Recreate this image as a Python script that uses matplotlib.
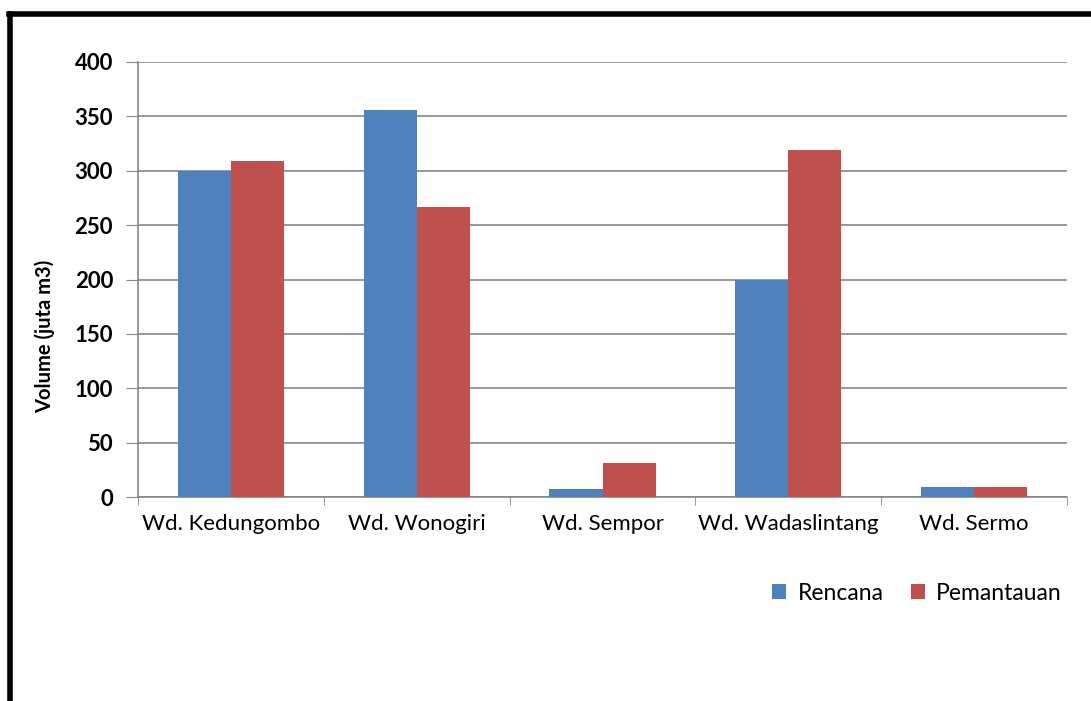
import numpy as np
import matplotlib.pyplot as plt
from matplotlib.lines import Line2D

categories = ['Wd. Kedungombo', 'Wd. Wonogiri', 'Wd. Sempor', 'Wd. Wadaslintang', 'Wd. Sermo']
rencana = [300, 356, 7, 200, 9]
pemantauan = [309, 267, 31, 319, 9]
yticks = [0, 50, 100, 150, 200, 250, 300, 350, 400]

plt.rcParams['font.family'] = ['Lato', 'DejaVu Sans']

W, H = 1091, 701
fig = plt.figure(figsize=(W / 100, H / 100), dpi=100)
ax = fig.add_axes([138 / W, 1 - 497 / H, (1067 - 138) / W, (497 - 62) / H])

x = np.arange(len(categories))
bw = 1 / 3.5
ax.bar(x - bw / 2, rencana, bw, color='#4F81BD', label='Rencana', zorder=3)
ax.bar(x + bw / 2, pemantauan, bw, color='#C0504D', label='Pemantauan', zorder=3)

ax.set_xlim(-0.5, len(categories) - 0.5)
ax.set_ylim(0, 400)
ax.set_yticks(yticks)
ax.set_yticklabels([str(v) for v in yticks], fontsize=16, fontweight='bold')
ax.yaxis.grid(True, color='#868686', linewidth=1.2, zorder=0)

ax.set_xticks(x)
ax.set_xticklabels(categories, fontsize=16)
ax.tick_params(axis='x', length=0, pad=12)
ax.set_xticks(np.arange(-0.5, len(categories)), minor=True)
ax.tick_params(axis='x', which='minor', length=6, color='#868686')
ax.tick_params(axis='y', length=9, color='#868686', pad=9)

for side in ['top', 'right']:
    ax.spines[side].set_visible(False)
for side in ['left', 'bottom']:
    ax.spines[side].set_color('#868686')
    ax.spines[side].set_linewidth(1.2)

fig.text(45 / W, 1 - 336 / H, 'Volume (juta m3)', rotation=90, fontsize=14.5,
         fontweight='bold', ha='center', va='center')

ax.legend(loc='center right', bbox_to_anchor=(1062 / W, 1 - 593 / H),
          bbox_transform=fig.transFigure, ncol=2, frameon=False, fontsize=16.5,
          handlelength=0.6, handleheight=0.6, handletextpad=0.5, columnspacing=1.2,
          borderaxespad=0, borderpad=0)

# frame border (only top and left visible in the reference)
fig.add_artist(Line2D([10 / W, 10 / W], [0, 1 - 14 / H], color='black', linewidth=4,
                      transform=fig.transFigure))
fig.add_artist(Line2D([8.5 / W, 1], [1 - 14 / H, 1 - 14 / H], color='black', linewidth=4,
                      transform=fig.transFigure))

fig.savefig('out.png', dpi=100)
